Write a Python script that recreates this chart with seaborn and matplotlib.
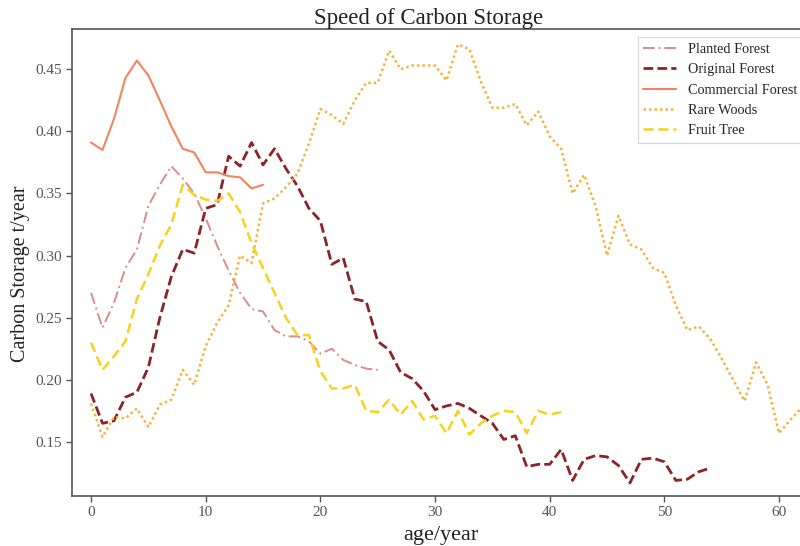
import numpy as np
import pandas as pd
import matplotlib
matplotlib.use("Agg")
import matplotlib.pyplot as plt
import seaborn as sns

planted = [0.27, 0.242, 0.262, 0.29, 0.305, 0.34, 0.357, 0.372, 0.362, 0.35, 0.33, 0.308,
           0.288, 0.27, 0.257, 0.255, 0.24, 0.235, 0.235, 0.231, 0.221, 0.225, 0.216,
           0.212, 0.209, 0.208]
original = [0.189, 0.165, 0.167, 0.186, 0.19, 0.21, 0.25, 0.283, 0.305, 0.302, 0.338, 0.341,
            0.38, 0.372, 0.391, 0.373, 0.386, 0.37, 0.356, 0.338, 0.328, 0.293, 0.298, 0.265,
            0.263, 0.231, 0.224, 0.206, 0.201, 0.191, 0.176, 0.179, 0.181, 0.177, 0.171,
            0.165, 0.152, 0.155, 0.13, 0.132, 0.132, 0.144, 0.119, 0.136, 0.139, 0.138,
            0.131, 0.117, 0.136, 0.137, 0.134, 0.119, 0.12, 0.126, 0.129]
commercial = [0.391, 0.385, 0.41, 0.443, 0.457, 0.445, 0.425, 0.404, 0.386, 0.383, 0.367,
              0.367, 0.364, 0.363, 0.354, 0.357]
rare = [0.181, 0.154, 0.17, 0.169, 0.177, 0.162, 0.18, 0.184, 0.208, 0.196, 0.227, 0.246,
        0.26, 0.3, 0.294, 0.342, 0.346, 0.355, 0.366, 0.39, 0.418, 0.413, 0.406, 0.425,
        0.439, 0.439, 0.465, 0.45, 0.453, 0.453, 0.453, 0.441, 0.47, 0.466, 0.44, 0.419,
        0.419, 0.422, 0.405, 0.416, 0.396, 0.386, 0.35, 0.365, 0.34, 0.3, 0.332, 0.309,
        0.305, 0.29, 0.286, 0.26, 0.24, 0.243, 0.233, 0.217, 0.2, 0.183, 0.214, 0.196,
        0.157, 0.168, 0.178]
fruit = [0.23, 0.208, 0.219, 0.231, 0.265, 0.285, 0.308, 0.325, 0.357, 0.349, 0.345, 0.344,
         0.35, 0.335, 0.31, 0.29, 0.27, 0.25, 0.236, 0.236, 0.207, 0.193, 0.193, 0.196,
         0.175, 0.174, 0.184, 0.172, 0.183, 0.168, 0.171, 0.157, 0.175, 0.156, 0.165,
         0.171, 0.175, 0.174, 0.157, 0.175, 0.172, 0.174]

series_names = ["Planted Forest", "Original Forest", "Commercial Forest", "Rare Woods", "Fruit Tree"]
series_values = [planted, original, commercial, rare, fruit]
x_ticks = [0, 10, 20, 30, 40, 50, 60]
y_ticks = [0.15, 0.20, 0.25, 0.30, 0.35, 0.40, 0.45]

colors = ["#dc8c8c", "#8b2328", "#f4845f", "#f5b342", "#f7d11c"]
styles = [(0, (6, 2, 1, 2)), (0, (3.5, 1.5)), "-", (0, (1, 1.2)), (0, (4, 2))]
widths = [1.4, 2.0, 1.5, 1.8, 1.8]

sns.set_style("ticks")
plt.rcParams["font.family"] = ["Liberation Serif", "DejaVu Serif"]

fig = plt.figure(figsize=(8.0, 5.46), dpi=100)
ax = fig.add_axes([0.09, 0.0916, 0.9225, 0.8553])

for name, vals, c, ls, lw in zip(series_names, series_values, colors, styles, widths):
    df = pd.DataFrame({"age": np.arange(len(vals)), "value": vals})
    sns.lineplot(data=df, x="age", y="value", ax=ax, color=c, linestyle=ls,
                 linewidth=lw, label=name)

ax.set_xlim(-1.66, 62.7)
ax.set_ylim(0.1065, 0.4824)
ax.set_xticks(x_ticks)
ax.set_yticks(y_ticks)
ax.set_yticklabels([f"{v:.2f}" for v in y_ticks])
ax.tick_params(axis="both", labelsize=11, colors="#555555", length=4, width=1)
for sp in ax.spines.values():
    sp.set_visible(True)
    sp.set_color("#555555")
    sp.set_linewidth(1.2)

ax.set_xlabel("age/year", fontsize=16, color="#222222", labelpad=5)
ax.set_ylabel("Carbon Storage t/year", fontsize=14.5, color="#222222")
ax.yaxis.set_label_coords(-0.057, 0.475)
ax.set_title("Speed of Carbon Storage", fontsize=16.5, color="#222222", x=0.483, pad=3)

leg = ax.legend(loc="upper right", bbox_to_anchor=(0.99, 0.983), fontsize=10.3,
                handlelength=2.3, frameon=True, fancybox=False, borderpad=0.4,
                labelspacing=0.52, borderaxespad=0)
leg.get_frame().set_edgecolor("#cccccc")
leg.get_frame().set_linewidth(0.8)

fig.savefig("out.png", dpi=100)
